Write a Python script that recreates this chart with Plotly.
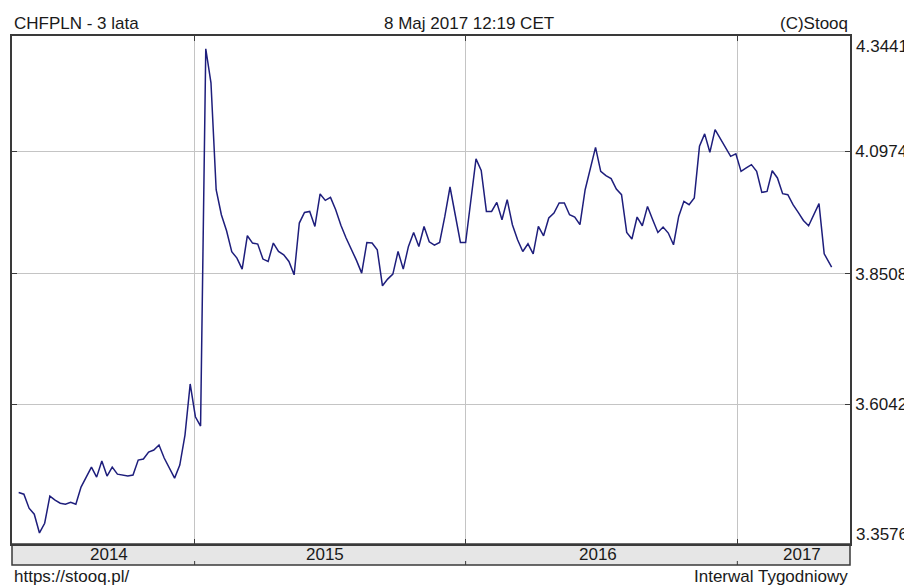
import math
import pandas as pd
import plotly.graph_objects as go

# Weekly closes (Friday) from 2014-05-09, plus the current partial week (2017-05-08)
week_dates = list(pd.date_range("2014-05-09", periods=157, freq="7D").strftime("%Y-%m-%d")) + ["2017-05-08"]

chfpln = [
    3.4465, 3.4435, 3.4191, 3.4087, 3.3765, 3.3931, 3.4400, 3.4330, 3.4278, 3.4260,
    3.4295, 3.4260, 3.4558, 3.4734, 3.4911, 3.4734, 3.5018, 3.4752, 3.4911, 3.4787,
    3.4770, 3.4752, 3.4770, 3.5036, 3.5054, 3.5178, 3.5214, 3.5304, 3.5072, 3.4897,
    3.4716, 3.4947, 3.5483, 3.6414, 3.5814, 3.5645, 4.3161, 4.2422, 4.0184, 3.9677,
    3.9356, 3.8939, 3.8814, 3.8598, 3.9257, 3.9111, 3.9091, 3.8795, 3.8748, 3.9111,
    3.8945, 3.8880, 3.8748, 3.8486, 3.9510, 3.9723, 3.9743, 3.9442, 4.0097, 3.9967,
    4.0028, 3.9778, 3.9466, 3.9211, 3.8992, 3.8769, 3.8520, 3.9123, 3.9111, 3.8978,
    3.8273, 3.8403, 3.8500, 3.8945, 3.8598, 3.9044, 3.9322, 3.9044, 3.9442, 3.9137,
    3.9068, 3.9123, 3.9643, 4.0239, 3.9677, 3.9123, 3.9123, 3.9981, 4.0816, 4.0580,
    3.9743, 3.9743, 3.9926, 3.9577, 3.9981, 3.9477, 3.9177, 3.8945, 3.9097, 3.8899,
    3.9442, 3.9256, 3.9611, 3.9712, 3.9914, 3.9914, 3.9677, 3.9631, 3.9477, 4.0184,
    4.0594, 4.1057, 4.0559, 4.0471, 4.0410, 4.0198, 4.0083, 3.9322, 3.9191, 3.9631,
    3.9456, 3.9845, 3.9577, 3.9322, 3.9430, 3.9310, 3.9078, 3.9643, 3.9947, 3.9880,
    4.0016, 4.1078, 4.1338, 4.0953, 4.1428, 4.1233, 4.1045, 4.0870, 4.0920, 4.0559,
    4.0629, 4.0698, 4.0559, 4.0129, 4.0149, 4.0573, 4.0424, 4.0103, 4.0083, 3.9880,
    3.9724, 3.9563, 3.9456, 3.9677, 3.9900, 3.8899, 3.8728, 3.8638,
]

y_ticks = [3.3576, 3.6042, 3.8508, 4.0974, 4.3441]
year_boundaries = ["2015-01-01", "2016-01-01", "2017-01-01"]
year_labels = ["2014", "2015", "2016", "2017"]
year_label_pos = ["2014-09-08", "2015-06-26", "2016-06-27", "2017-03-29"]

FONT = "Liberation Sans, Arial, sans-serif"
TXT = "#1a1a1a"
BORDER = "#3a3a3a"
GRID = "#c4c4c4"
PLOT_H = 508
PLOT_W = 840

fig = go.Figure()
fig.add_trace(go.Scatter(
    x=week_dates, y=chfpln, mode="lines",
    line=dict(color="#1e1e7c", width=1.5),
    hoverinfo="x+y", showlegend=False,
))

# the page body adds an 8px margin, so the figure is 8px smaller on each axis
fig.update_layout(
    width=904, height=580,
    margin=dict(l=2, r=62, t=28, b=44),
    paper_bgcolor="white", plot_bgcolor="white",
    font=dict(family=FONT, size=17, color=TXT),
    showlegend=False,
)

fig.update_xaxes(
    type="date",
    range=["2014-04-30", "2017-06-01 18:00"],
    tickvals=year_boundaries,
    showticklabels=False,
    showgrid=True, gridcolor=GRID, gridwidth=1,
    ticks="inside", ticklen=5, tickcolor=BORDER, tickwidth=1,
    showline=True, linecolor=BORDER, linewidth=1.5, mirror="ticks",
    zeroline=False,
)

fig.update_yaxes(
    type="log",
    range=[math.log10(y_ticks[0]), math.log10(y_ticks[-1])],
    side="right",
    tickvals=y_ticks[1:-1],
    ticktext=[f"{v:.4f}" for v in y_ticks[1:-1]],
    tickfont=dict(family=FONT, size=17, color=TXT),
    showgrid=True, gridcolor=GRID, gridwidth=1,
    ticks="inside", ticklen=5, tickcolor=BORDER, tickwidth=1,
    showline=True, linecolor=BORDER, linewidth=1.5, mirror="ticks",
    zeroline=False,
)

band_h = 21 / PLOT_H
fig.add_shape(type="rect", xref="paper", yref="paper",
              x0=0, x1=1, y0=-band_h, y1=0,
              fillcolor="#e6e6e6", line=dict(color=BORDER, width=1.5), layer="below")
for b in year_boundaries:
    fig.add_shape(type="line", xref="x", yref="paper", x0=b, x1=b,
                  y0=-band_h, y1=-band_h + 4 / PLOT_H, line=dict(color=BORDER, width=1))

annotations = []
for lab, pos in zip(year_labels, year_label_pos):
    annotations.append(dict(x=pos, y=-band_h / 2, xref="x", yref="paper",
                            text=lab, showarrow=False, xanchor="center", yanchor="middle",
                            font=dict(family=FONT, size=17, color=TXT)))

# edge labels of the value axis (data min / max)
annotations.append(dict(x=1, y=1, xref="paper", yref="paper", text=f"{y_ticks[-1]:.4f}",
                        showarrow=False, xanchor="left", yanchor="top", xshift=4, yshift=1,
                        font=dict(family=FONT, size=17, color=TXT)))
annotations.append(dict(x=1, y=0, xref="paper", yref="paper", text=f"{y_ticks[0]:.4f}",
                        showarrow=False, xanchor="left", yanchor="bottom", xshift=4, yshift=-2,
                        font=dict(family=FONT, size=17, color=TXT)))

top_y = 1 + 13 / PLOT_H
annotations += [
    dict(x=0, y=top_y, xref="paper", yref="paper", text="CHFPLN - 3 lata", showarrow=False,
         xanchor="left", yanchor="middle", font=dict(family=FONT, size=17, color=TXT)),
    dict(x=(468 - 10) / PLOT_W, y=top_y, xref="paper", yref="paper", text="8 Maj 2017 12:19 CET",
         showarrow=False, xanchor="center", yanchor="middle", font=dict(family=FONT, size=17, color=TXT)),
    dict(x=1, y=top_y, xref="paper", yref="paper", text="(C)Stooq", showarrow=False,
         xanchor="right", yanchor="middle", font=dict(family=FONT, size=17, color=TXT)),
]
bot_y = -(576 - 544) / PLOT_H
annotations += [
    dict(x=0, y=bot_y, xref="paper", yref="paper", text="https://stooq.pl/", showarrow=False,
         xanchor="left", yanchor="middle", font=dict(family=FONT, size=17, color=TXT)),
    dict(x=1, y=bot_y, xref="paper", yref="paper", text="Interwal Tygodniowy", showarrow=False,
         xanchor="right", yanchor="middle", font=dict(family=FONT, size=17, color=TXT)),
]
fig.update_layout(annotations=annotations)

fig.write_html("out.html")
